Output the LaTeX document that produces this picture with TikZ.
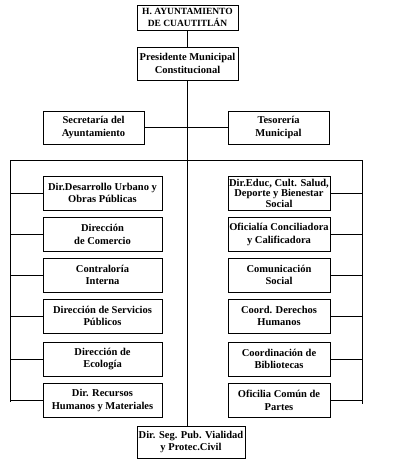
\documentclass[tikz,border=0pt]{standalone}
\usepackage{fontspec}
\setmainfont{Liberation Serif}
\begin{document}
\begin{tikzpicture}[x = 1pt, y = -1pt, line width = 0.8pt]

	% Definitions

	\tikzset{
		unit/.style = {draw, align = center, inner sep = 1pt, font = \bfseries\fontsize{10.5}{12.5}\selectfont},
		head/.style = {unit, minimum width = 101pt, minimum height = 33pt},
		left unit/.style = {unit, minimum width = 119pt, minimum height = 34pt},
		right unit/.style = {unit, minimum width = 102pt, minimum height = 34pt}
	}

	\useasboundingbox (0, 0) rectangle (400, 464);

	% Top of the chart

	\node [head, minimum height = 25pt, font = \bfseries\fontsize{9.5}{12}\selectfont] (ayunt) at (187.5, 17.5) {H. AYUNTAMIENTO\\DE CUAUTITLÁN};
	\node [head] (pres) at (187.5, 63.5) {Presidente Municipal\\Constitucional};
	\node [head] (secr) at (93.5, 127.5) {Secretaría del\\Ayuntamiento};
	\node [head] (teso) at (278.5, 127.5) {Tesorería\\Municipal};
	\node [head, minimum width = 108pt, minimum height = 32pt] (segpub) at (191, 442) {Dir. Seg. Pub. Vialidad\\y Protec.Civil};

	% Left column

	\node [left unit] (desurb) at (102.5, 193) {Dir.Desarrollo Urbano y\\Obras Públicas};
	\node [left unit] (comer) at (102.5, 234.5) {Dirección\\de Comercio};
	\node [left unit] (contra) at (102.5, 275) {Contraloría\\Interna};
	\node [left unit] (servpub) at (102.5, 316) {Dirección de Servicios\\Públicos};
	\node [left unit] (ecol) at (102.5, 359) {Dirección de\\Ecología};
	\node [left unit] (rechum) at (102.5, 400.5) {Dir. Recursos\\Humanos y Materiales};

	% Right column

	\node [right unit, font = \bfseries\fontsize{10.5}{10.5}\selectfont, inner sep = 0pt] (educ) at (279, 193) {Dir.Educ, Cult. Salud,\\Deporte y Bienestar\\Social};
	\node [right unit] (ofconc) at (279, 234.5) {Oficialía Conciliadora\\y Calificadora};
	\node [right unit] (comsoc) at (279, 275) {Comunicación\\Social};
	\node [right unit] (derhum) at (279, 316) {Coord. Derechos\\Humanos};
	\node [right unit] (biblio) at (279, 359) {Coordinación de\\Bibliotecas};
	\node [right unit] (partes) at (279, 400.5) {Oficilia Común de\\Partes};

	% Main line

	\draw (ayunt) -- (pres);
	\draw (pres.south) -- (pres.south |- segpub.north);
	\draw (secr) -- (teso);

	% Branch lines

	\coordinate (busL) at (10, 160);
	\coordinate (busR) at (362, 160);
	\draw (busL) -- (busR);
	\draw (busL) -- (10, 402);
	\draw (busR) -- (362, 404);

	\draw (busL |- desurb.west) -- (desurb.west);
	\draw (busL |- comer.west) -- (comer.west);
	\draw (busL |- contra.west) -- (contra.west);
	\draw (busL |- servpub.west) -- (servpub.west);
	\draw (busL |- ecol.west) -- (ecol.west);
	\draw (busL |- rechum.west) -- (rechum.west);

	\draw (educ.east) -- (busR |- educ.east);
	\draw (ofconc.east) -- (busR |- ofconc.east);
	\draw (comsoc.east) -- (busR |- comsoc.east);
	\draw (derhum.east) -- (busR |- derhum.east);
	\draw (biblio.east) -- (busR |- biblio.east);
	\draw (partes.east) -- (busR |- partes.east);

\end{tikzpicture}
\end{document}
